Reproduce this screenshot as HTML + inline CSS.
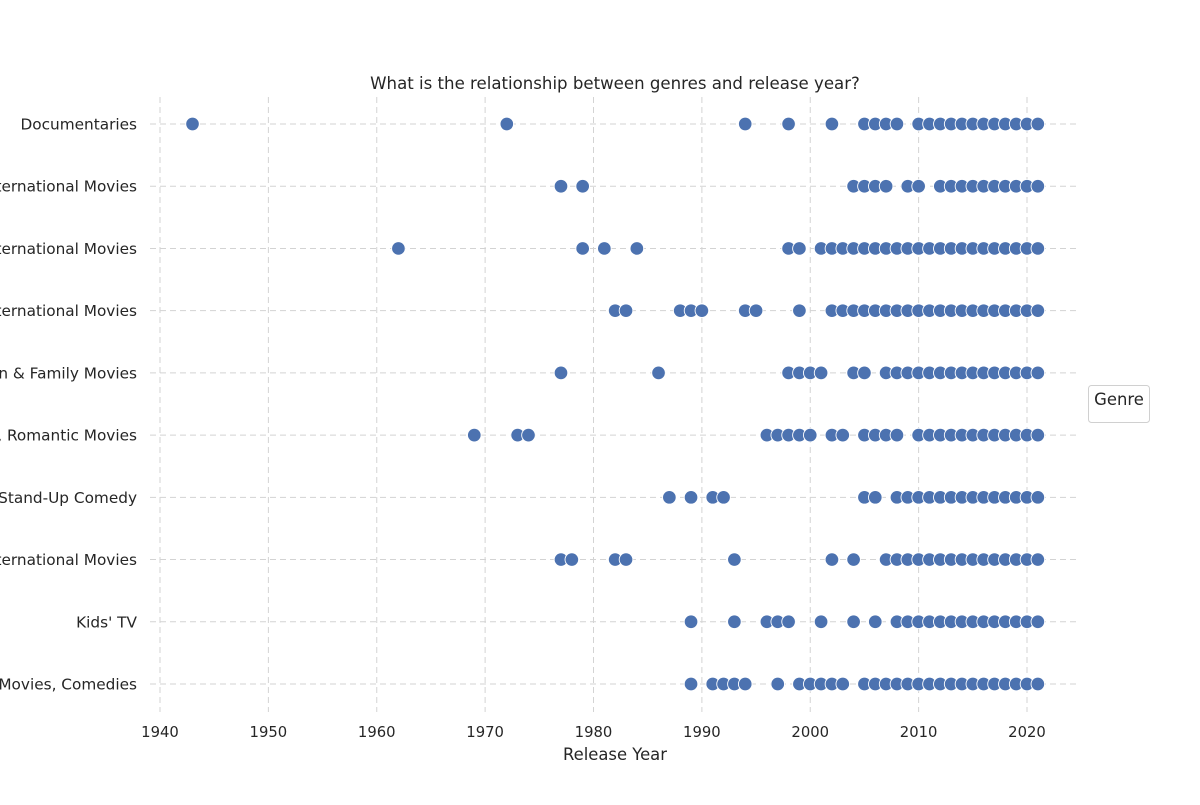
<!DOCTYPE html>
<html><head><meta charset="utf-8"><style>
body{margin:0;background:#fff;}
svg text{font-family:"DejaVu Sans","Liberation Sans",sans-serif;fill:#262626;}
</style></head><body>
<svg id="chart" width="1200" height="800">
<text x="615" y="89" font-size="16.6" text-anchor="middle">What is the relationship between genres and release year?</text>
<g id="grid"></g><g id="ylabels"></g><g id="xlabels"></g><g id="points"></g>
<text x="615" y="760" font-size="16.4" text-anchor="middle">Release Year</text>
<g>
<rect x="1088.5" y="385.5" width="61" height="37" rx="3" fill="#fff" stroke="#d0d0d0"/>
<text x="1119" y="405" font-size="16.4" text-anchor="middle">Genre</text>
</g>
</svg>
<script>
const genres=["Documentaries","Dramas, International Movies","Comedies, Dramas, International Movies","Comedies, International Movies","Children & Family Movies","Comedies, Romantic Movies","Stand-Up Comedy","Dramas, Independent Movies, International Movies","Kids' TV","Children & Family Movies, Comedies"];
const years0=[1943,1972,1994,1998,2002,2005,2006,2007,2008,2010,2011,2012,2013,2014,2015,2016,2017,2018,2019,2020,2021];
const years1=[1977,1979,2004,2005,2006,2007,2009,2010,2012,2013,2014,2015,2016,2017,2018,2019,2020,2021];
const years2=[1962,1979,1981,1984,1998,1999,2001,2002,2003,2004,2005,2006,2007,2008,2009,2010,2011,2012,2013,2014,2015,2016,2017,2018,2019,2020,2021];
const years3=[1982,1983,1988,1989,1990,1994,1995,1999,2002,2003,2004,2005,2006,2007,2008,2009,2010,2011,2012,2013,2014,2015,2016,2017,2018,2019,2020,2021];
const years4=[1977,1986,1998,1999,2000,2001,2004,2005,2007,2008,2009,2010,2011,2012,2013,2014,2015,2016,2017,2018,2019,2020,2021];
const years5=[1969,1973,1974,1996,1997,1998,1999,2000,2002,2003,2005,2006,2007,2008,2010,2011,2012,2013,2014,2015,2016,2017,2018,2019,2020,2021];
const years6=[1987,1989,1991,1992,2005,2006,2008,2009,2010,2011,2012,2013,2014,2015,2016,2017,2018,2019,2020,2021];
const years7=[1977,1978,1982,1983,1993,2002,2004,2007,2008,2009,2010,2011,2012,2013,2014,2015,2016,2017,2018,2019,2020,2021];
const years8=[1989,1993,1996,1997,1998,2001,2004,2006,2008,2009,2010,2011,2012,2013,2014,2015,2016,2017,2018,2019,2020,2021];
const years9=[1989,1991,1992,1993,1994,1997,1999,2000,2001,2002,2003,2005,2006,2007,2008,2009,2010,2011,2012,2013,2014,2015,2016,2017,2018,2019,2020,2021];
const xTicks=[1940,1950,1960,1970,1980,1990,2000,2010,2020];
const allYears=[years0,years1,years2,years3,years4,years5,years6,years7,years8,years9];
const NS="http://www.w3.org/2000/svg";
const xs=y=>160+(y-1940)*(1027-160)/80;
const ys=i=>124+i*(684-124)/9;
function mk(tag,attrs,parent){const e=document.createElementNS(NS,tag);for(const k in attrs)e.setAttribute(k,attrs[k]);parent.appendChild(e);return e;}
const grid=document.getElementById('grid'),yl=document.getElementById('ylabels'),xl=document.getElementById('xlabels'),pts=document.getElementById('points');
xTicks.forEach(t=>{
  const l=mk('line',{x1:xs(t),x2:xs(t),y1:97,y2:712,stroke:'#d3d3d3','stroke-dasharray':'6,4','stroke-width':1},grid);
  
  
  const tx=mk('text',{x:xs(t),y:737,'font-size':14.8,'text-anchor':'middle'},xl);
  tx.textContent=t;
  
  
});
genres.forEach((g,i)=>{
  const l=mk('line',{x1:150,x2:1080,y1:ys(i),y2:ys(i),stroke:'#d3d3d3','stroke-dasharray':'6,4','stroke-width':1},grid);
  
  
  const tx=mk('text',{x:137,y:ys(i)+5.5,'font-size':15.3,'text-anchor':'end'},yl);
  tx.textContent=g;
  
  
  allYears[i].forEach(yr=>{
    const c=mk('circle',{cx:xs(yr),cy:ys(i),r:6.8,fill:'#4c72b0',stroke:'#fff','stroke-width':0.9},pts);
    
    
  });
});
</script>
</body></html>
